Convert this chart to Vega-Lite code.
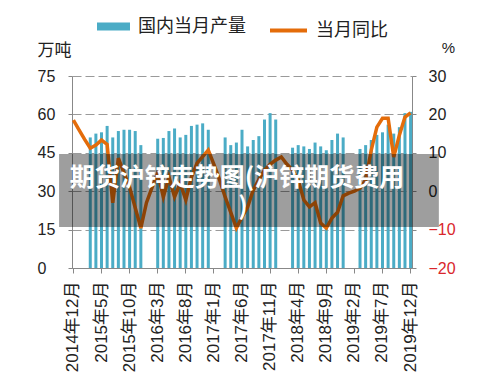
{
  "$schema": "https://vega.github.io/schema/vega-lite/v6.json",
  "width": 340,
  "height": 192,
  "autosize": "none",
  "padding": {"left": 72, "top": 76, "right": 88, "bottom": 115},
  "background": "white",
  "config": {
    "font": "Liberation Sans, Noto Sans CJK SC",
    "view": {"stroke": null},
    "legend": {"padding": 0, "labelFont": "Noto Sans CJK SC", "labelFontSize": 18, "labelColor": "#222"}
  },
  "layer": [
    {
      "data": {
        "values": [
          {"m": "2014年12月", "prod": null, "yoy": 18.5},
          {"m": "2015年1月", "prod": null, "yoy": 16},
          {"m": "2015年2月", "prod": null, "yoy": 13.5},
          {"m": "2015年3月", "prod": 51, "yoy": 11.2},
          {"m": "2015年4月", "prod": 52.5, "yoy": 12},
          {"m": "2015年5月", "prod": 53, "yoy": 13.3},
          {"m": "2015年6月", "prod": 55.5, "yoy": 12.2},
          {"m": "2015年7月", "prod": 51, "yoy": -3},
          {"m": "2015年8月", "prod": 53.5, "yoy": 8.6},
          {"m": "2015年9月", "prod": 54, "yoy": 4.8},
          {"m": "2015年10月", "prod": 54, "yoy": 1},
          {"m": "2015年11月", "prod": 53.5, "yoy": -4.3},
          {"m": "2015年12月", "prod": 48, "yoy": -9.6},
          {"m": "2016年1月", "prod": null, "yoy": -3},
          {"m": "2016年2月", "prod": null, "yoy": 1},
          {"m": "2016年3月", "prod": 50.5, "yoy": 4.7},
          {"m": "2016年4月", "prod": 50.8, "yoy": -1.5},
          {"m": "2016年5月", "prod": 53.5, "yoy": 3.7},
          {"m": "2016年6月", "prod": 54.5, "yoy": -1.5},
          {"m": "2016年7月", "prod": 51, "yoy": 2.1},
          {"m": "2016年8月", "prod": 52, "yoy": -2.3},
          {"m": "2016年9月", "prod": 55.5, "yoy": 3.7},
          {"m": "2016年10月", "prod": 56, "yoy": 7.3},
          {"m": "2016年11月", "prod": 56.5, "yoy": 9},
          {"m": "2016年12月", "prod": 54, "yoy": 10.7},
          {"m": "2017年1月", "prod": null, "yoy": 7},
          {"m": "2017年2月", "prod": null, "yoy": 3},
          {"m": "2017年3月", "prod": 51, "yoy": -1.5},
          {"m": "2017年4月", "prod": 48, "yoy": -5.5},
          {"m": "2017年5月", "prod": 49, "yoy": -9.6},
          {"m": "2017年6月", "prod": 54, "yoy": -6.7},
          {"m": "2017年7月", "prod": 47.5, "yoy": -4.1},
          {"m": "2017年8月", "prod": 50, "yoy": 0.3},
          {"m": "2017年9月", "prod": 51.5, "yoy": 3},
          {"m": "2017年10月", "prod": 58, "yoy": 5.5},
          {"m": "2017年11月", "prod": 60.5, "yoy": 7},
          {"m": "2017年12月", "prod": 58, "yoy": 8.1},
          {"m": "2018年1月", "prod": null, "yoy": 8.9},
          {"m": "2018年2月", "prod": null, "yoy": 7},
          {"m": "2018年3月", "prod": 47, "yoy": 5.5},
          {"m": "2018年4月", "prod": 48, "yoy": 2.9},
          {"m": "2018年5月", "prod": 47.5, "yoy": -2.3},
          {"m": "2018年6月", "prod": 46.5, "yoy": -4.1},
          {"m": "2018年7月", "prod": 49, "yoy": -3},
          {"m": "2018年8月", "prod": 47.5, "yoy": -8.3},
          {"m": "2018年9月", "prod": 46, "yoy": -9.6},
          {"m": "2018年10月", "prod": 50, "yoy": -7},
          {"m": "2018年11月", "prod": 52.5, "yoy": -5.5},
          {"m": "2018年12月", "prod": 51, "yoy": -1.2},
          {"m": "2019年1月", "prod": null, "yoy": -0.5},
          {"m": "2019年2月", "prod": null, "yoy": 0},
          {"m": "2019年3月", "prod": 46.5, "yoy": 0.8},
          {"m": "2019年4月", "prod": 48, "yoy": 2.9},
          {"m": "2019年5月", "prod": 50, "yoy": 10.7},
          {"m": "2019年6月", "prod": 52, "yoy": 16.7},
          {"m": "2019年7月", "prod": 53, "yoy": 19},
          {"m": "2019年8月", "prod": 56, "yoy": 19},
          {"m": "2019年9月", "prod": 52.5, "yoy": 8.9},
          {"m": "2019年10月", "prod": 55, "yoy": 14.6},
          {"m": "2019年11月", "prod": 60.5, "yoy": 19.3},
          {"m": "2019年12月", "prod": 61, "yoy": 20.4}
        ]
      },
      "layer": [
        {
          "mark": {"type": "bar", "size": 3},
          "encoding": {
            "x": {
              "field": "m",
              "type": "ordinal",
              "scale": {
                "domain": ["2014年12月","2015年1月","2015年2月","2015年3月","2015年4月","2015年5月","2015年6月","2015年7月","2015年8月","2015年9月","2015年10月","2015年11月","2015年12月","2016年1月","2016年2月","2016年3月","2016年4月","2016年5月","2016年6月","2016年7月","2016年8月","2016年9月","2016年10月","2016年11月","2016年12月","2017年1月","2017年2月","2017年3月","2017年4月","2017年5月","2017年6月","2017年7月","2017年8月","2017年9月","2017年10月","2017年11月","2017年12月","2018年1月","2018年2月","2018年3月","2018年4月","2018年5月","2018年6月","2018年7月","2018年8月","2018年9月","2018年10月","2018年11月","2018年12月","2019年1月","2019年2月","2019年3月","2019年4月","2019年5月","2019年6月","2019年7月","2019年8月","2019年9月","2019年10月","2019年11月","2019年12月"],
                "paddingInner": 0.5,
                "paddingOuter": 0
              },
              "axis": {
                "values": ["2014年12月","2015年5月","2015年10月","2016年3月","2016年8月","2017年1月","2017年6月","2017年11月","2018年4月","2018年9月","2019年2月","2019年7月","2019年12月"],
                "title": null,
                "bandPosition": 0.5,
                "labelAngle": -90,
                "labelFontSize": 17,
                "labelColor": "#222",
                "labelPadding": 8,
                "domainColor": "#888",
                "tickColor": "#888",
                "tickSize": 5,
                "grid": false
              }
            },
            "y": {
              "field": "prod",
              "type": "quantitative",
              "scale": {"domain": [0, 75], "nice": false},
              "axis": {
                "title": "万吨",
                "titleFont": "Noto Sans CJK SC",
                "titleAngle": 0,
                "titleX": -18,
                "titleY": -26,
                "titleAlign": "center",
                "titleBaseline": "middle",
                "titleFontSize": 17,
                "titleFontWeight": "normal",
                "titleColor": "#222",
                "values": [0, 15, 30, 45, 60, 75],
                "labelFontSize": 16,
                "labelColor": "#222",
                "labelAlign": "left",
                "labelPadding": 31,
                "tickSize": 4,
                "tickColor": "#888",
                "domainColor": "#888",
                "grid": true,
                "gridDash": [9, 4],
                "gridColor": "#9a9a9a",
                "gridWidth": 1.2
              }
            },
            "fill": {
              "datum": "国内当月产量",
              "scale": {"range": ["#4bacc6"]},
              "legend": {
                "orient": "none",
                "legendX": 25,
                "legendY": -66,
                "title": null,
                "symbolType": "M-1,-0.24H1V0.24H-1Z",
                "symbolSize": 1089,
                "symbolStrokeWidth": 0,
                "labelOffset": 8
              }
            }
          }
        },
        {
          "mark": {"type": "line", "strokeWidth": 3.5},
          "encoding": {
            "x": {"field": "m", "type": "ordinal"},
            "y": {
              "field": "yoy",
              "type": "quantitative",
              "scale": {"domain": [-20, 30], "nice": false},
              "axis": {
                "orient": "right",
                "title": "%",
                "titleAngle": 0,
                "titleX": 36,
                "titleY": -29,
                "titleAlign": "center",
                "titleBaseline": "middle",
                "titleFontSize": 15,
                "titleFontWeight": "normal",
                "titleColor": "#222",
                "values": [-20, -10, 0, 10, 20, 30],
                "labelFontSize": 16,
                "labelColor": {"condition": {"test": "datum.value < 0", "value": "#d9262c"}, "value": "#222"},
                "labelAlign": "left",
                "labelPadding": 12,
                "tickSize": 4,
                "tickColor": "#888",
                "domainColor": "#888",
                "grid": false
              }
            },
            "stroke": {
              "datum": "当月同比",
              "scale": {"range": ["#e46c0a"]},
              "legend": {
                "orient": "none",
                "legendX": 196,
                "legendY": -66,
                "title": null,
                "symbolType": "stroke",
                "symbolSize": 1369,
                "symbolStrokeWidth": 4,
                "labelOffset": 7
              }
            }
          }
        }
      ],
      "resolve": {"scale": {"y": "independent"}}
    },
    {
      "data": {"values": [{"x0": -3.8, "x1": 107.9, "y0": 16, "y1": 44.5}]},
      "mark": {"type": "rect", "color": "#000", "opacity": 0.38},
      "encoding": {
        "x": {"field": "x0", "type": "quantitative", "scale": {"domain": [0, 100]}, "axis": null},
        "x2": {"field": "x1"},
        "y": {"field": "y0", "type": "quantitative", "scale": {"domain": [0, 75]}, "axis": null},
        "y2": {"field": "y1"}
      }
    },
    {
      "data": {"values": [
        {"tx": 48.5, "ty": 39.8, "label": "期货沪锌走势图(沪锌期货费用"},
        {"tx": 50.3, "ty": 28.4, "label": ")"}
      ]},
      "mark": {"type": "text", "color": "white", "font": "Noto Sans CJK SC", "fontWeight": "bold", "fontSize": 25, "align": "center", "baseline": "top"},
      "encoding": {
        "x": {"field": "tx", "type": "quantitative", "scale": {"domain": [0, 100]}, "axis": null},
        "y": {"field": "ty", "type": "quantitative", "scale": {"domain": [0, 75]}, "axis": null},
        "text": {"field": "label"}
      }
    }
  ],
  "resolve": {"scale": {"x": "independent", "y": "independent"}}
}
